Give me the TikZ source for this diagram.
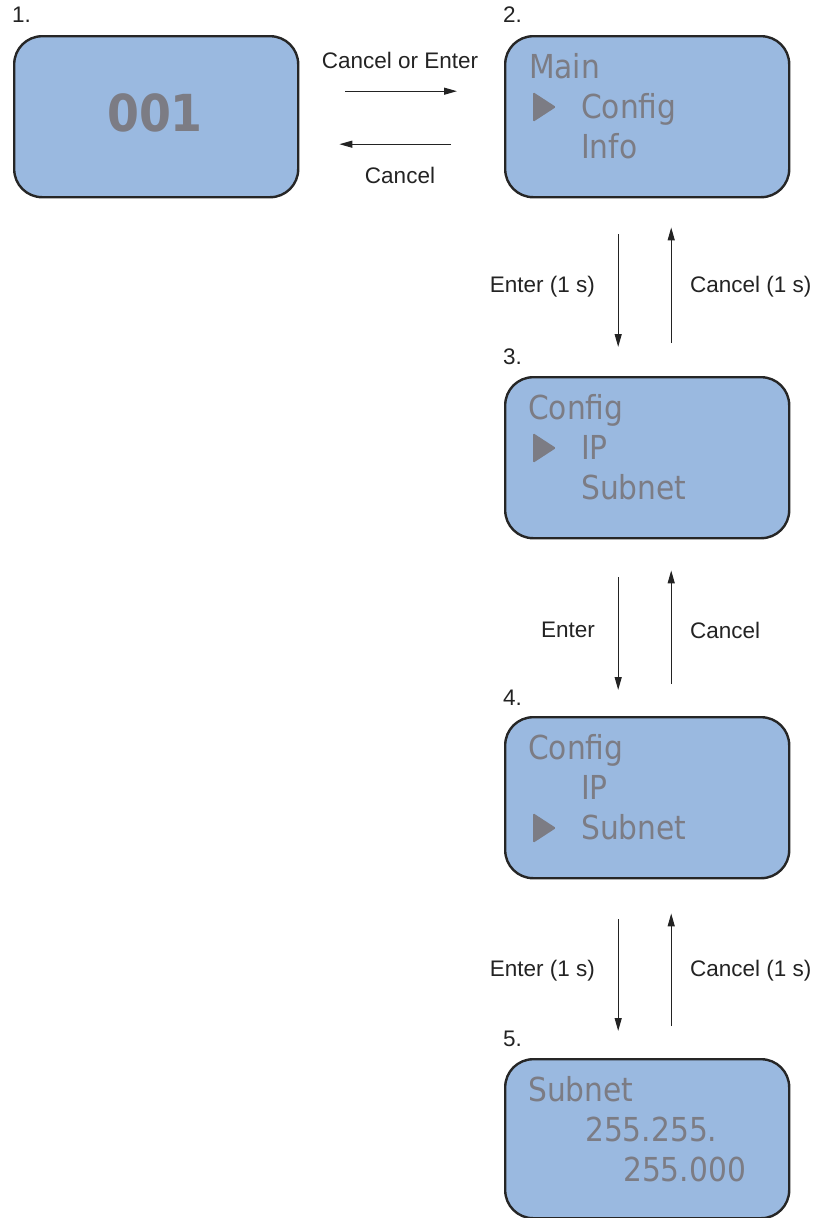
\documentclass[tikz,border=0pt]{standalone}
\usepackage{fontspec}
\setmainfont{Liberation Sans}
\newfontfamily\lcd{DejaVu Sans Condensed}
\usetikzlibrary{arrows.meta}
\definecolor{lcdfill}{RGB}{154,185,224}
\definecolor{lcdtext}{RGB}{124,124,132}
\definecolor{labtext}{RGB}{35,35,35}
\tikzset{
  screen/.style={draw=black!85, line width=2.4pt, fill=lcdfill, rounded corners=28pt,
    minimum width=284pt, minimum height=161pt, inner sep=0pt, anchor=north west},
  lcdline/.style={anchor=base west, inner sep=0pt, text=lcdtext, font=\lcd\fontsize{33}{33}\selectfont},
  lab/.style={inner sep=0pt, text=labtext, font=\fontsize{22.5}{22.5}\selectfont},
  num/.style={lab, anchor=base west},
  arr/.style={line width=1.2pt, draw=labtext, -{Triangle[length=13pt,width=7pt]}},
  pointer/.style={fill=lcdtext, rounded corners=1.5pt}
}
\begin{document}
\begin{tikzpicture}[x=1pt,y=-1pt]
\useasboundingbox (0,0) rectangle (816,1218);
% screens
\node[screen] (b1) at (13,35) {};
\node[screen] (b2) at (504,35) {};
\node[screen] (b3) at (504,376) {};
\node[screen] (b4) at (504,716) {};
\node[screen, minimum height=159pt] (b5) at (504,1058) {};
% numbers
\node[num] (n1) at (12,23) {1.};
\node[num] (n2) at (503,23) {2.};
\node[num] (n3) at (503,364) {3.};
\node[num] (n4) at (503,705) {4.};
\node[num] (n5) at (503,1046) {5.};
% screen 1
\node[inner sep=0pt, text=lcdtext, font=\lcd\bfseries\fontsize{51}{51}\selectfont] (t1) at (155,113) {001};
% screen 2
\node[lcdline] (t2a) at (529,78) {Main};
\node[lcdline] (t2b) at (581,118) {Config};
\node[lcdline] (t2c) at (581,158) {Info};
\fill[pointer] (533,92) -- (556,107) -- (533,122) -- cycle;
% screen 3
\node[lcdline] (t3a) at (528,419) {Config};
\node[lcdline] (t3b) at (581,459) {IP};
\node[lcdline] (t3c) at (581,499) {Subnet};
\fill[pointer] (533,433) -- (556,448) -- (533,463) -- cycle;
% screen 4
\node[lcdline] (t4a) at (528,759) {Config};
\node[lcdline] (t4b) at (581,799) {IP};
\node[lcdline] (t4c) at (581,839) {Subnet};
\fill[pointer] (533,813) -- (556,828) -- (533,843) -- cycle;
% screen 5
\node[lcdline] (t5a) at (528,1101) {Subnet};
\node[lcdline] (t5b) at (585,1141) {255.255.};
\node[lcdline] (t5c) at (623,1181) {255.000};
% horizontal arrows
\draw[arr, shorten <=46pt, shorten >=47pt] ([yshift=25.5pt]b1.east) -- ([yshift=25.5pt]b2.west);
\draw[arr, shorten <=53pt, shorten >=40pt] ([yshift=-27.5pt]b2.west) -- ([yshift=-27.5pt]b1.east);
\node[lab] (l1) at (400,60) {Cancel or Enter};
\node[lab] (l2) at (400,175) {Cancel};
% vertical arrows 2-3
\draw[arr, shorten <=36pt, shorten >=29pt] ([xshift=-29pt]b2.south) -- ([xshift=-29pt]b3.north);
\draw[arr, shorten <=33pt, shorten >=29pt] ([xshift=24pt]b3.north) -- ([xshift=24pt]b2.south);
\node[lab, anchor=east] (l3) at (595,287) {Enter (1 s)};
\node[lab, anchor=west] (l4) at (690,287) {Cancel (1 s)};
% vertical arrows 3-4
\draw[arr, shorten <=38pt, shorten >=26pt] ([xshift=-29pt]b3.south) -- ([xshift=-29pt]b4.north);
\draw[arr, shorten <=32pt, shorten >=31pt] ([xshift=24pt]b4.north) -- ([xshift=24pt]b3.south);
\node[lab, anchor=east] (l5) at (595,630) {Enter};
\node[lab, anchor=west] (l6) at (690,630) {Cancel};
% vertical arrows 4-5
\draw[arr, shorten <=40pt, shorten >=27pt] ([xshift=-29pt]b4.south) -- ([xshift=-29pt]b5.north);
\draw[arr, shorten <=32pt, shorten >=34pt] ([xshift=24pt]b5.north) -- ([xshift=24pt]b4.south);
\node[lab, anchor=east] (l7) at (595,971) {Enter (1 s)};
\node[lab, anchor=west] (l8) at (690,971) {Cancel (1 s)};
\end{tikzpicture}
\end{document}
